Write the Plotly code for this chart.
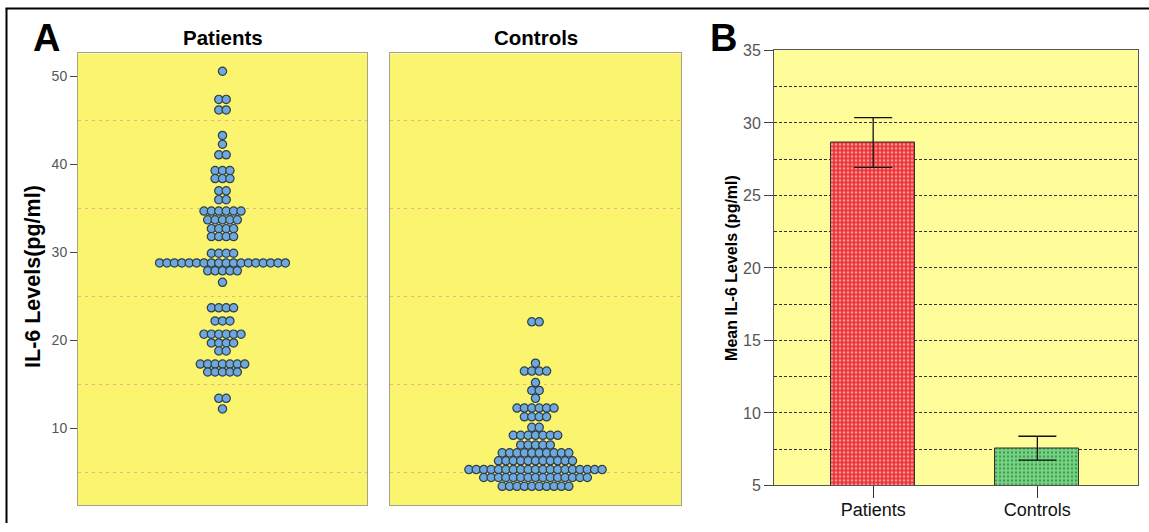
import plotly.graph_objects as go

# ---------------- data ----------------
# Panel A: dot plot rows (IL-6 level of row, number of dots in row)
patient_levels = [50.6, 47.4, 46.2, 43.3, 42.3, 41.1, 39.3, 38.4, 37.0, 36.0, 34.7, 33.7,
                  32.7, 31.8, 29.9, 28.8, 27.9, 26.6, 23.7, 22.2, 20.7, 19.7, 18.8, 17.3,
                  16.4, 13.4, 12.2]
patient_counts = [1, 2, 2, 1, 1, 2, 3, 3, 2, 2, 6, 5, 4, 4, 4, 18, 5, 1, 4, 3, 6, 4, 2, 7, 5, 2, 1]

control_levels = [22.1, 17.4, 16.5, 15.2, 14.3, 13.4, 12.3, 11.3, 10.1, 9.2, 8.1, 7.2,
                  6.3, 5.3, 4.4, 3.4]
control_counts = [2, 1, 4, 1, 2, 1, 6, 4, 2, 7, 5, 10, 11, 19, 15, 10]

# Panel B: mean with 95% CI
groups = ["Patients", "Controls"]
means = [28.66, 7.58]
ci_upper = [30.37, 8.39]
ci_lower = [26.94, 6.75]

panel_a_ticks = [10, 20, 30, 40, 50]
panel_b_ticks = [5, 10, 15, 20, 25, 30, 35]

# ---------------- helpers ----------------
W, H = 1149, 532
FONT = "Liberation Sans, Arial, sans-serif"
DOT_STEP = 7.4
# observed vertical mapping of the viewer: shown_y = VS * page_y + VO
VS, VO = 0.966, 8.6


def px_x(px):
    return px / W


def px_y(py):
    d = (py - VO) / VS
    return 1 - d / H


def dot_positions(levels, counts):
    xs, ys = [], []
    for lv, n in zip(levels, counts):
        for i in range(n):
            xs.append((i - (n - 1) / 2) * DOT_STEP)
            ys.append(lv)
    return xs, ys


px_, py_ = dot_positions(patient_levels, patient_counts)
cx_, cy_ = dot_positions(control_levels, control_counts)

dot_marker = dict(size=8.3, color="#6FA8DC", line=dict(color="#2E3F48", width=1.2))

fig = go.Figure()
fig.add_trace(go.Scatter(x=px_, y=py_, mode="markers", marker=dot_marker,
                         xaxis="x", yaxis="y", showlegend=False, hoverinfo="y"))
fig.add_trace(go.Scatter(x=cx_, y=cy_, mode="markers", marker=dot_marker,
                         xaxis="x2", yaxis="y2", showlegend=False, hoverinfo="y"))

fig.add_trace(go.Bar(
    x=[0, 1], y=means, width=0.512, xaxis="x3", yaxis="y3", showlegend=False,
    marker=dict(
        color=["#EC3434", "#6EDC7E"],
        line=dict(color="#333333", width=1),
        pattern=dict(shape=".", size=4, solidity=0.35,
                     fgcolor=["#B01E1E", "#3A9C4C"],
                     bgcolor=["#EC3434", "#6EDC7E"]),
    ),
    error_y=dict(type="data", symmetric=False,
                 array=[u - m for u, m in zip(ci_upper, means)],
                 arrayminus=[m - l for m, l in zip(means, ci_lower)],
                 color="#111111", thickness=1.3, width=19),
))

a_line = "#A4A28A"
y_range_a = [1.22, 52.62]

fig.update_layout(
    width=W, height=H,
    margin=dict(l=0, r=0, t=0, b=0),
    paper_bgcolor="white",
    plot_bgcolor="#FAF46E",
    font=dict(family=FONT, color="#222"),
    xaxis=dict(domain=[px_x(78), px_x(367)], range=[-144.5, 144.5],
               showticklabels=False, ticks="", showgrid=False, zeroline=False,
               showline=True, mirror=True, linecolor=a_line, linewidth=1),
    yaxis=dict(domain=[px_y(505), px_y(54)], range=y_range_a,
               tickvals=panel_a_ticks, ticks="outside", ticklen=7, tickcolor="#444",
               tickfont=dict(size=14, color="#555", family=FONT),
               showgrid=False, zeroline=False,
               showline=True, mirror=True, linecolor=a_line, linewidth=1,
               minor=dict(tick0=5, dtick=10, showgrid=True, gridcolor="#F2B27A",
                          griddash="3px,4px", gridwidth=1, ticks="")),
    xaxis2=dict(domain=[px_x(390), px_x(681)], range=[-145.5, 145.5],
                showticklabels=False, ticks="", showgrid=False, zeroline=False,
                showline=True, mirror=True, linecolor=a_line, linewidth=1),
    yaxis2=dict(domain=[px_y(505), px_y(54)], range=y_range_a, anchor="x2",
                showticklabels=False, ticks="", showgrid=False, zeroline=False,
                showline=True, mirror=True, linecolor=a_line, linewidth=1,
                minor=dict(tick0=5, dtick=10, showgrid=True, gridcolor="#F2B27A",
                           griddash="3px,4px", gridwidth=1, ticks="")),
    xaxis3=dict(domain=[px_x(774), px_x(1137.5)], range=[-0.604, 1.61], anchor="y3",
                tickvals=[0, 1], ticktext=groups, ticks="outside", ticklen=12,
                ticklabelstandoff=-4,
                tickcolor="#333", tickfont=dict(size=18, color="#111", family=FONT),
                showgrid=False, zeroline=False,
                showline=True, mirror=True, linecolor="#555", linewidth=1),
    yaxis3=dict(domain=[px_y(485), px_y(51)], range=[5, 35], anchor="x3",
                tickvals=panel_b_ticks, ticks="outside", ticklen=9, tickcolor="#444",
                tickfont=dict(size=16, color="#555", family=FONT),
                showgrid=True, gridcolor="#333", griddash="3px,2px", gridwidth=1,
                zeroline=False, showline=True, mirror=True, linecolor="#555", linewidth=1,
                minor=dict(dtick=2.5, showgrid=True, gridcolor="#333",
                           griddash="3px,2px", gridwidth=1, ticks="")),
    bargap=0,
)

# light-yellow background of panel B
fig.add_shape(type="rect", xref="x3 domain", yref="y3 domain", x0=0, x1=1, y0=0, y1=1,
              fillcolor="#FEFD9A", line=dict(width=0), layer="below")

# black frame lines (top and left)
fig.add_shape(type="line", xref="paper", yref="paper", x0=px_x(5.5), x1=1,
              y0=0.999, y1=0.999, line=dict(color="black", width=2))
fig.add_shape(type="line", xref="paper", yref="paper", x0=px_x(6.5), x1=px_x(6.5),
              y0=0, y1=0.999, line=dict(color="black", width=2))

ann = [
    dict(text="<b>A</b>", x=px_x(46), y=px_y(39), size=38),
    dict(text="<b>B</b>", x=px_x(723), y=px_y(39), size=38),
    dict(text="<b>Patients</b>", x=px_x(222.5), y=px_y(38), size=20.5),
    dict(text="<b>Controls</b>", x=px_x(535.5), y=px_y(38), size=20.5),
]
for a in ann:
    fig.add_annotation(text=a["text"], x=a["x"], y=a["y"], xref="paper", yref="paper",
                       showarrow=False, xanchor="center", yanchor="middle",
                       font=dict(size=a["size"], color="black", family=FONT))

fig.add_annotation(text="<b>IL-6 Levels(pg/ml)</b>", x=px_x(33), y=px_y(277),
                   xref="paper", yref="paper", showarrow=False, textangle=-90,
                   xanchor="center", yanchor="middle",
                   font=dict(size=21.5, color="black", family=FONT))
fig.add_annotation(text="<b>Mean IL-6 Levels (pg/ml)</b>", x=px_x(732), y=px_y(268),
                   xref="paper", yref="paper", showarrow=False, textangle=-90,
                   xanchor="center", yanchor="middle",
                   font=dict(size=16, color="black", family=FONT))

post = (
    "document.documentElement.style.margin='0';"
    "document.documentElement.style.padding='0';"
    "document.documentElement.style.overflow='hidden';"
    "document.body.style.margin='0';"
    "document.body.style.padding='0';"
    "document.body.style.overflow='hidden';"
    "var d=document.querySelector('.plotly-graph-div');"
    "if(d){d.style.position='fixed';d.style.top='0px';d.style.left='0px';}"
)

fig.write_html("out.html", config={"displayModeBar": False}, post_script=post)
